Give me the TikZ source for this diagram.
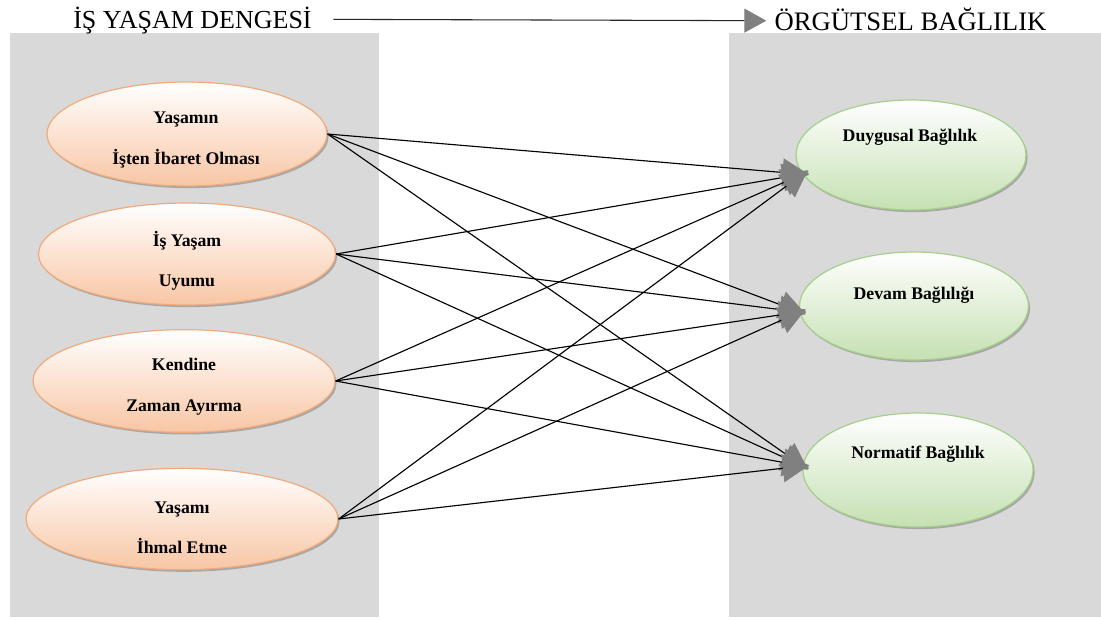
\documentclass[tikz,border=0pt]{standalone}
\usepackage{fontspec}
\setmainfont{Liberation Serif}
\usetikzlibrary{shapes.geometric,arrows.meta,shadows}

\definecolor{panelgray}{RGB}{217,217,217}
\definecolor{peachfill}{RGB}{248,198,164}
\definecolor{peachline}{RGB}{240,170,124}
\definecolor{mintfill}{RGB}{197,224,178}
\definecolor{mintline}{RGB}{165,208,138}
\definecolor{tipgray}{RGB}{128,128,128}

\begin{document}
\begin{tikzpicture}[x=0.75pt,y=0.75pt,yscale=-1,xscale=1,
  factor/.style={ellipse,draw=peachline,line width=0.9pt,inner sep=0pt,
    top color=white,bottom color=peachfill,
    drop shadow={shadow xshift=1.2pt,shadow yshift=-1.6pt,opacity=0.35,fill=black!70}},
  outcome/.style={ellipse,draw=mintline,line width=0.9pt,inner sep=0pt,
    top color=white,bottom color=mintfill,
    drop shadow={shadow xshift=1.2pt,shadow yshift=-1.6pt,opacity=0.35,fill=black!70}},
  nodetext/.style={font=\fontsize{13.3}{30.4}\selectfont\bfseries,align=center,inner sep=0pt},
  header/.style={text height=14pt,text depth=0pt,inner xsep=6pt,inner ysep=0pt},
  link/.style={line width=0.85pt,shorten >=-5pt,-{Triangle[length=20pt,width=21pt,color=tipgray]}}
]
\useasboundingbox (0,0) rectangle (1101,619);

%Shape: Rectangle [id:panels]
\fill [panelgray] (10,33) rectangle (379,617);
\fill [panelgray] (729,33) rectangle (1101,617);

% Text Node
\node [header,font=\fontsize{19.5}{22}\selectfont] (isy) at (192.5,19.3) {İŞ YAŞAM DENGESİ};
% Text Node
\node [header,font=\fontsize{20}{22}\selectfont] (orb) at (910.5,20.7) {ÖRGÜTSEL BAĞLILIK};
%Straight Lines [id:header arrow]
\draw [line width=0.8pt,color=black!85,shorten <=10pt,-{Triangle[length=16.5pt,width=18pt,color=tipgray]}] (isy.east) -- (orb.west);

%Shape: Ellipse [id:factors]
\node [factor,minimum width=210pt,minimum height=78pt] (l1) at (187,134) {};
\node [factor,minimum width=222.75pt,minimum height=76.5pt] (l2) at (187,254) {};
\node [factor,minimum width=226.5pt,minimum height=77pt] (l3) at (184,381) {};
\node [factor,minimum width=234pt,minimum height=76pt] (l4) at (182,519) {};

%Shape: Ellipse [id:outcomes]
\node [outcome,minimum width=172.5pt,minimum height=82.5pt] (r1) at (911,155) {};
\node [outcome,minimum width=171.75pt,minimum height=81pt] (r2) at (914,306) {};
\node [outcome,minimum width=172.5pt,minimum height=85.5pt] (r3) at (918,470) {};

% Text Node
\node [nodetext] (l1t) at (186,140) {Yaşamın\\İşten İbaret Olması};
\node [nodetext] (l2t) at (187,261) {İş Yaşam\\Uyumu};
\node [nodetext] (l3t) at (184,386.5) {Kendine\\Zaman Ayırma};
\node [nodetext] (l4t) at (182,528) {Yaşamı\\İhmal Etme};
% Text Node
\node [nodetext] (r1t) at (910,137) {Duygusal Bağlılık};
\node [nodetext] (r2t) at (914,295) {Devam Bağlılığı};
\node [nodetext] (r3t) at (918,454) {Normatif Bağlılık};

%Straight Lines [id:links]
\foreach \src in {l1,l2,l3,l4}
  \foreach \dst/\ang in {r1/190,r2/183,r3/178}
    \draw [link] (\src.east) -- (\dst.\ang);

\end{tikzpicture}
\end{document}
